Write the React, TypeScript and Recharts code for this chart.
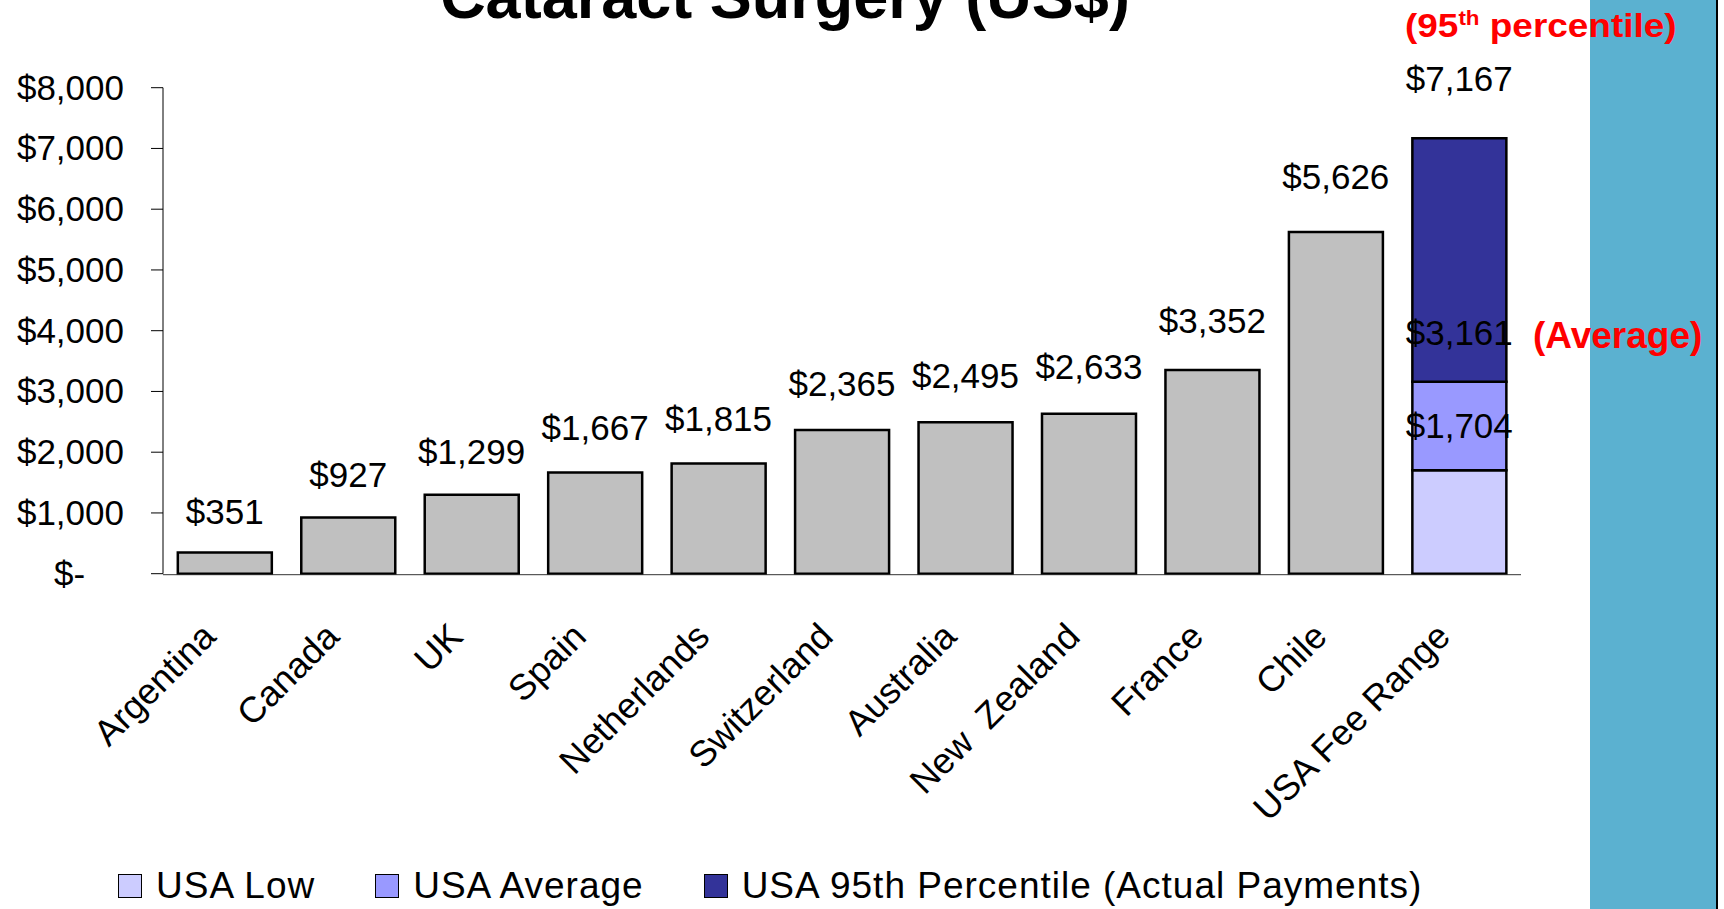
import React from 'react'
import { Bar, ComposedChart, LabelList, Legend, Line, XAxis, YAxis } from 'recharts'

const categories = [
  'Argentina',
  'Canada',
  'UK',
  'Spain',
  'Netherlands',
  'Switzerland',
  'Australia',
  'New  Zealand',
  'France',
  'Chile',
  'USA Fee Range',
]
const countryCost = [351, 927, 1299, 1667, 1815, 2365, 2495, 2633, 3352, 5626, null]
const usaLow = [null, null, null, null, null, null, null, null, null, null, 1704]
const usaAverage = [null, null, null, null, null, null, null, null, null, null, 3161]
const usa95th = [null, null, null, null, null, null, null, null, null, null, 7167]
const yTicks = [0, 1000, 2000, 3000, 4000, 5000, 6000, 7000, 8000]
const edgeTicks = categories.map((_, i) => i).concat(categories.length)
const legendOrder = ['low', 'avgPart', 'topPart']

const FONT = '"Liberation Sans", Arial, sans-serif'

const money = (v: number) => '$' + v.toLocaleString('en-US')

// stacked table: USA segments are differences between the three USA levels
const data = categories.map((name, i) => {
  const low = usaLow[i]
  const avg = usaAverage[i]
  const top = usa95th[i]
  return {
    name,
    cost: countryCost[i],
    low,
    avgPart: avg != null && low != null ? avg - low : null,
    topPart: top != null && avg != null ? top - avg : null,
    lblTop: countryCost[i] ?? top,
    lblAvg: avg,
    lblLow: low,
  }
})

const XTick = (props: any) => {
  const { x, y, payload } = props
  return (
    <g transform={`translate(${x - 7},${y + 65})`}>
      <text
        transform="rotate(-45)"
        textAnchor="end"
        fontSize={36}
        fontFamily={FONT}
        fill="#000"
        style={{ whiteSpace: 'pre' }}
      >
        {payload.value}
      </text>
    </g>
  )
}

const YTick = (props: any) => {
  const { x, y, payload } = props
  return (
    <text
      x={x}
      y={y}
      dy={12}
      textAnchor="end"
      fontSize={35}
      fontFamily={FONT}
      fill="#000"
      style={{ whiteSpace: 'pre' }}
    >
      {payload.value === 0 ? '$-    ' : money(payload.value)}
    </text>
  )
}

const renderValueLabel = (props: any) => {
  const vb = props.viewBox ?? {}
  const x = props.x ?? vb.x
  const y = props.y ?? vb.y
  const { value } = props
  if (value == null || x == null || y == null) return null
  return (
    <text x={x} y={y} textAnchor="middle" fontSize={35} fontFamily={FONT} fill="#000">
      {money(value)}
    </text>
  )
}

const renderLegend = (props: any) => {
  const items = (props.payload || [])
    .filter((p: any) => p.type !== 'none')
    .sort((a: any, b: any) => legendOrder.indexOf(a.dataKey) - legendOrder.indexOf(b.dataKey))
  return (
    <div
      style={{
        display: 'flex',
        alignItems: 'center',
        fontFamily: FONT,
        fontSize: 37,
        lineHeight: '36px',
        letterSpacing: 1,
        whiteSpace: 'nowrap',
        color: '#000',
      }}
    >
      {items.map((p: any, i: number) => (
        <div key={i} style={{ display: 'flex', alignItems: 'center', marginRight: 60 }}>
          <span
            style={{
              display: 'inline-block',
              width: 22,
              height: 22,
              background: p.color,
              border: '1.5px solid #000',
              marginRight: 14,
            }}
          />
          <span>{p.value}</span>
        </div>
      ))}
    </div>
  )
}

export default function App() {
  return (
    <div
      style={{
        position: 'absolute',
        left: 0,
        top: 0,
        width: 1724,
        height: 909,
        background: '#fff',
        overflow: 'hidden',
      }}
    >
      <div
        style={{
          position: 'absolute',
          left: 1590,
          top: 0,
          width: 126,
          height: 909,
          background: '#5BB1D0',
          borderRight: '2px solid #000',
        }}
      />
      <div style={{ position: 'absolute', left: 0, top: 0 }}>
        <ComposedChart
          width={1724}
          height={909}
          data={data}
          margin={{ top: 87.7, right: 203, bottom: 333.3, left: 0 }}
          barCategoryGap="12%"
        >
          <XAxis
            xAxisId="cat"
            dataKey="name"
            height={1}
            axisLine={false}
            tickLine={false}
            tickSize={0}
            tickMargin={0}
            interval={0}
            tick={<XTick />}
          />
          <XAxis
            xAxisId="edges"
            type="number"
            domain={[0, categories.length]}
            ticks={edgeTicks}
            allowDataOverflow
            height={1}
            tickSize={12}
            tick={false}
            stroke="#333"
          />
          <YAxis
            yAxisId="main"
            width={163}
            domain={[0, 8000]}
            ticks={yTicks}
            interval={0}
            tickSize={12}
            tickMargin={27}
            tick={<YTick />}
            stroke="#000"
          />
          <YAxis yAxisId="lbl" orientation="right" hide domain={[-436, 7217]} allowDataOverflow />
          <Bar
            xAxisId="cat"
            yAxisId="main"
            dataKey="cost"
            stackId="s"
            fill="#C0C0C0"
            stroke="#000"
            strokeWidth={2.5}
            legendType="none"
            isAnimationActive={false}
          />
          <Bar
            xAxisId="cat"
            yAxisId="main"
            dataKey="low"
            name="USA Low"
            stackId="s"
            fill="#CCCCFF"
            stroke="#000"
            strokeWidth={2.5}
            isAnimationActive={false}
          />
          <Bar
            xAxisId="cat"
            yAxisId="main"
            dataKey="avgPart"
            name="USA Average"
            stackId="s"
            fill="#9999FF"
            stroke="#000"
            strokeWidth={2.5}
            isAnimationActive={false}
          />
          <Bar
            xAxisId="cat"
            yAxisId="main"
            dataKey="topPart"
            name="USA 95th Percentile (Actual Payments)"
            stackId="s"
            fill="#333399"
            stroke="#000"
            strokeWidth={2.5}
            isAnimationActive={false}
          />
          <Line
            xAxisId="cat"
            yAxisId="lbl"
            dataKey="lblTop"
            stroke="none"
            dot={false}
            activeDot={false}
            legendType="none"
            isAnimationActive={false}
          >
            <LabelList dataKey="lblTop" content={renderValueLabel} />
          </Line>
          <Line
            xAxisId="cat"
            yAxisId="lbl"
            dataKey="lblAvg"
            stroke="none"
            dot={false}
            activeDot={false}
            legendType="none"
            isAnimationActive={false}
          >
            <LabelList dataKey="lblAvg" content={renderValueLabel} />
          </Line>
          <Line
            xAxisId="cat"
            yAxisId="lbl"
            dataKey="lblLow"
            stroke="none"
            dot={false}
            activeDot={false}
            legendType="none"
            isAnimationActive={false}
          >
            <LabelList dataKey="lblLow" content={renderValueLabel} />
          </Line>
          <Legend
            layout="vertical"
            verticalAlign="middle"
            align="center"
            wrapperStyle={{ left: 118, top: 867.5, width: 'auto' }}
            content={renderLegend}
          />
        </ComposedChart>
      </div>
      <svg
        width={1724}
        height={909}
        style={{ position: 'absolute', left: 0, top: 0, pointerEvents: 'none' }}
      >
        <text x={785} y={18} textAnchor="middle" fontSize={63} fontWeight="bold" fontFamily={FONT} fill="#000">
          Cataract Surgery (US$)
        </text>
        <text
          transform="translate(1405,37) scale(1.12,1)"
          fontSize={33}
          fontWeight="bold"
          fontFamily={FONT}
          fill="#FF0000"
          style={{ whiteSpace: 'pre' }}
        >
          (95<tspan fontSize={20} dy={-12}>th</tspan>
          <tspan dy={12}> percentile)</tspan>
        </text>
        <text x={1533} y={348} fontSize={37} fontWeight="bold" fontFamily={FONT} fill="#FF0000">
          (Average)
        </text>
      </svg>
    </div>
  )
}
